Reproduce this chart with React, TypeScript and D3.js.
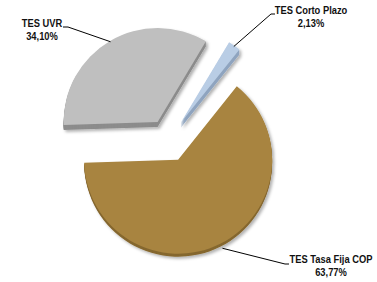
import React from "react";
import * as d3 from "d3";

// portfolio share by instrument (%)
const labels = ["TES UVR", "TES Corto Plazo", "TES Tasa Fija COP"];
const shares = [34.1, 2.13, 63.77];
const shareText = ["34,10%", "2,13%", "63,77%"];
const topColors = ["#BFBFBF", "#B9CDE5", "#A8843F"];
const sideColors = ["#8C8C8C", "#8FA4BF", "#85672F"];

const W = 377;
const H = 282;
const cx = 168.5;
const cy = 140.5;
const radius = 94;
const explode = 21.5;
const depth = 5;
const startDeg = -91.8;
const narrow = 0.85; // condensed label face

// label anchor (text centre), elbow point and end of leader
const labelPos = [
  { x: 42, y: 27, elbow: [68, 27], end: [63, 27] },
  { x: 311, y: 14, elbow: [271, 14], end: [275, 14] },
  { x: 331, y: 263, elbow: [285, 264], end: [289, 264] },
];

export default function App() {
  const start = (startDeg * Math.PI) / 180;
  const pie = d3
    .pie<number>()
    .sort(null)
    .startAngle(start)
    .endAngle(start + 2 * Math.PI);
  const arcs = pie(shares);
  const arc = d3.arc<d3.PieArcDatum<number>>().innerRadius(0).outerRadius(radius);

  const offset = (a: d3.PieArcDatum<number>) => {
    const mid = (a.startAngle + a.endAngle) / 2;
    return [cx + explode * Math.sin(mid), cy - explode * Math.cos(mid)];
  };

  const layers = d3.range(depth, 0, -1);

  return (
    <svg
      width={W}
      height={H}
      style={{ position: "absolute", left: 0, top: 0, background: "#fff" }}
      fontFamily="'Liberation Sans', Arial, sans-serif"
    >
      <defs>
        <filter id="shadow" x="-20%" y="-20%" width="140%" height="140%">
          <feDropShadow dx="2" dy="2" stdDeviation="1.5" floodColor="#000" floodOpacity="0.3" />
        </filter>
      </defs>
      <g filter="url(#shadow)">
        {arcs.map((a, i) => {
          const [ox, oy] = offset(a);
          const dz = i === 2 ? layers.slice(2) : layers;
          return (
            <g key={"side" + i} transform={`translate(${ox},${oy})`}>
              {dz.map((k) => (
                <path key={k} d={arc(a) || ""} fill={sideColors[i]} transform={`translate(0,${k})`} />
              ))}
            </g>
          );
        })}
        {arcs.map((a, i) => {
          const [ox, oy] = offset(a);
          return (
            <path
              key={"top" + i}
              d={arc(a) || ""}
              fill={topColors[i]}
              transform={`translate(${ox},${oy})`}
            />
          );
        })}
      </g>
      {arcs.map((a, i) => {
        const [ox, oy] = offset(a);
        const mid = (a.startAngle + a.endAngle) / 2;
        const r = i === 2 ? radius + 5 : radius - 1;
        const sx = ox + r * Math.sin(mid);
        const sy = oy - r * Math.cos(mid);
        const lp = labelPos[i];
        return (
          <g key={"lab" + i}>
            <polyline
              points={`${sx},${sy} ${lp.elbow[0]},${lp.elbow[1]} ${lp.end[0]},${lp.end[1]}`}
              fill="none"
              stroke="#000"
              strokeWidth={1}
            />
            <g
              transform={`translate(${lp.x},${lp.y}) scale(${narrow},1)`}
              fontSize={11}
              fontWeight="bold"
              fill="#111"
              textAnchor="middle"
            >
              <text x={0} y={0}>{labels[i]}</text>
              <text x={0} y={13}>{shareText[i]}</text>
            </g>
          </g>
        );
      })}
    </svg>
  );
}
